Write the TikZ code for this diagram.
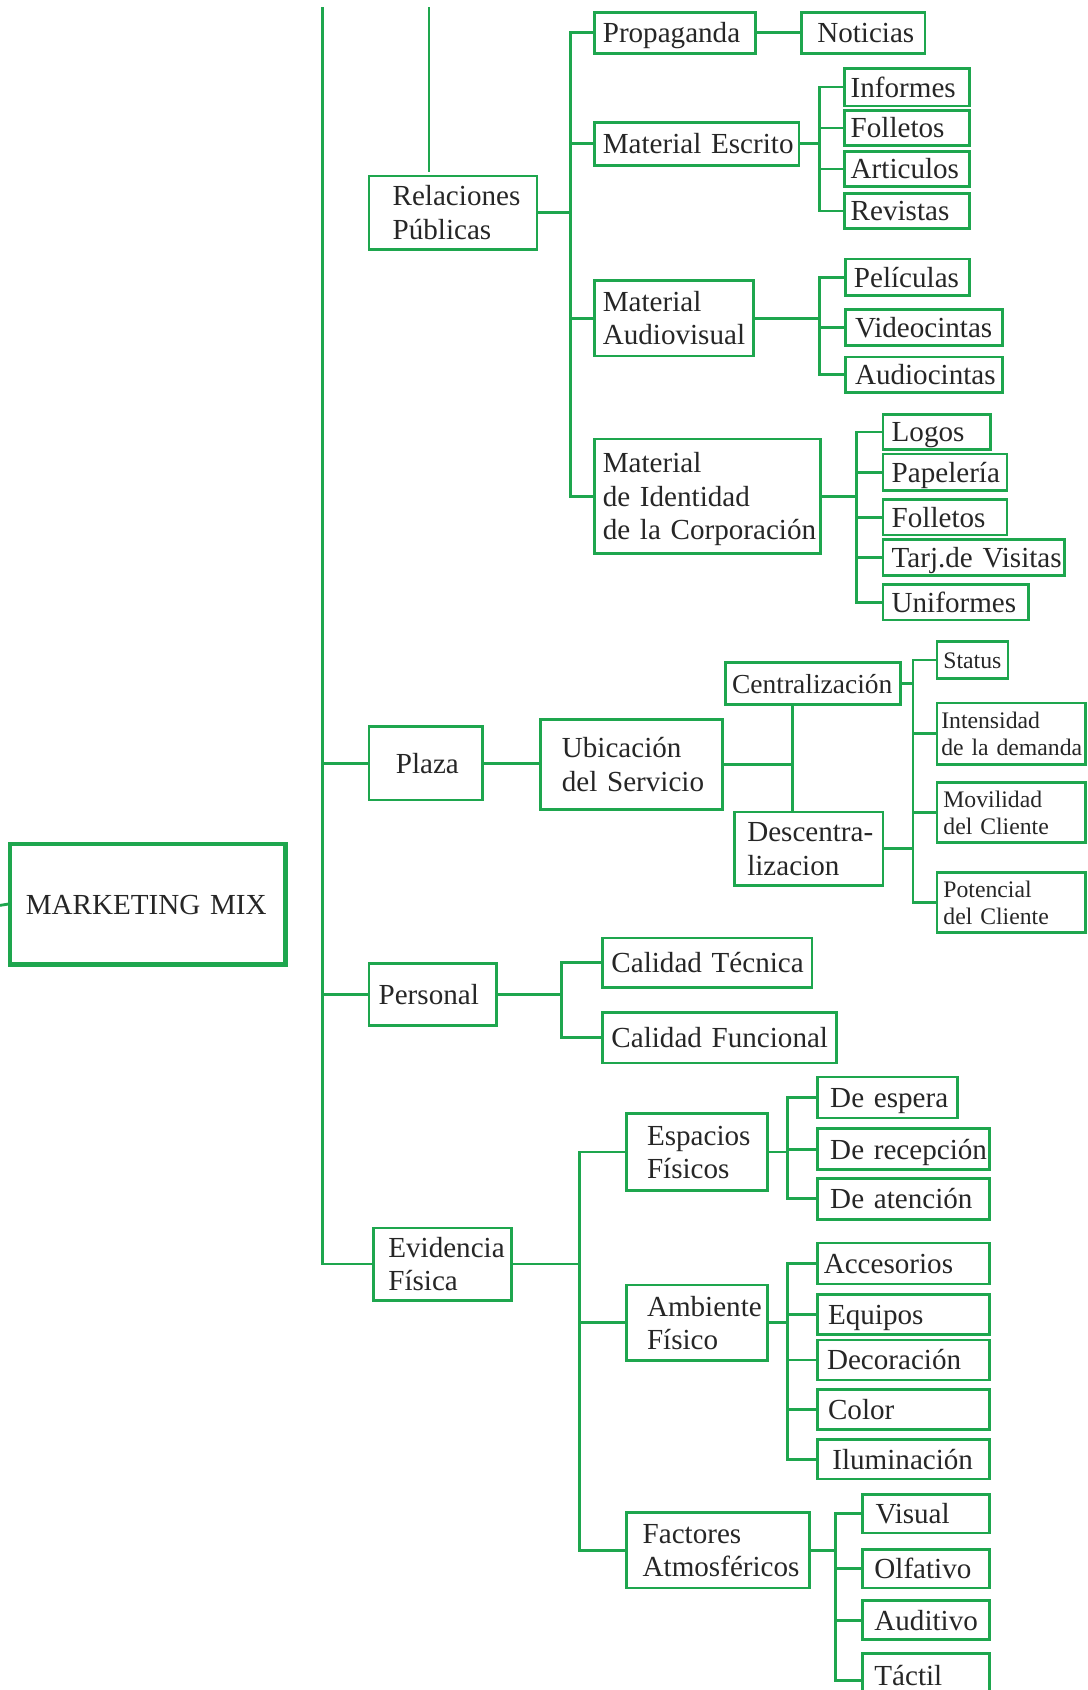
\documentclass[tikz,border=0pt]{standalone}
\usepackage{fontspec}
\setmainfont{Liberation Serif}
\definecolor{gr}{RGB}{30,166,78}
\definecolor{tx}{RGB}{38,38,38}
\newcommand\fbig{\fontsize{27}{31}\selectfont}
\newcommand\fsmall{\fontsize{22}{25}\selectfont}
\newcommand\fmid{\fontsize{25.5}{31}\selectfont}
\tikzset{
  box/.style={draw=gr, line width=2.6pt, inner ysep=0pt, align=left, anchor=north west, text=tx, font=\fbig},
  conn/.style={draw=gr, line width=2.6pt, line cap=rect},
  sm/.style={font=\fsmall},
  md/.style={font=\fmid}
}
\newcommand\bx[8][]{%
  \pgfmathsetmacro\bxw{#5-#3-2*#7}%
  \pgfmathsetmacro\bxh{#6-#4}%
  \node[box,inner xsep=#7pt,text width=\bxw pt,minimum height=\bxh pt,#1] (#2) at (#3,#4) {\raisebox{-3pt}[\height][\depth]{\begin{tabular}{@{}l@{}}#8\end{tabular}}};%
}
\newcommand\tree[5]{%
  \draw[conn] (#1.east) -- (#1.east -| #2);
  \draw[conn] (#3.west -| #2) -- (#4.west -| #2);
  \foreach \c in {#5} {\draw[conn] (\c.west -| #2) -- (\c.west);}
}
\begin{document}
\begin{tikzpicture}[x=1pt,y=-1pt]
\useasboundingbox (0,0) rectangle (1009,1568);
% boxes
\bx[line width=3.8pt]{MM}{7}{781}{263}{893}{15}{MARKETING MIX}
\bx{RP}{341}{162}{497}{230}{22}{Relaciones\\Públicas}
\bx{Prop}{550}{10}{700}{48}{8}{Propaganda}
\bx{Not}{742}{10}{857}{48}{15}{Noticias}
\bx{ME}{550}{112}{740}{152}{8}{Material Escrito}
\bx{Inf}{782}{62}{898}{97}{6}{Informes}
\bx{FolA}{782}{101}{898}{134}{6}{Folletos}
\bx{Art}{782}{139}{898}{172}{6}{Articulos}
\bx{Rev}{782}{178}{898}{211}{6}{Revistas}
\bx{MA}{550}{259}{698}{329}{8}{Material\\Audiovisual}
\bx{Pel}{783}{239}{898}{273}{8}{Películas}
\bx{Vid}{783}{286}{929}{319}{9}{Videocintas}
\bx{Aud}{783}{330}{929}{363}{9}{Audiocintas}
\bx{MI}{550}{406}{760}{512}{8}{Material\\de Identidad\\de la Corporación}
\bx{Log}{818}{383}{918}{416}{8}{Logos}
\bx{Pap}{818}{420}{933}{454}{8}{Papelería}
\bx{FolB}{818}{462}{933}{495}{8}{Folletos}
\bx{Tar}{818}{499}{986}{533}{8}{Tarj.de Visitas}
\bx{Uni}{818}{541}{953}{574}{8}{Uniformes}
\bx{Pla}{341}{673}{446}{741}{25}{Plaza}
\bx{Ubi}{500}{666}{669}{750}{20}{Ubicación\\del Servicio}
\bx[md]{Cen}{672}{613}{834}{652}{6}{Centralización}
\bx{Des}{680}{752}{818}{820}{12}{Descentra-\\lizacion}
\bx[sm]{Sta}{868}{594}{934}{628}{6}{Status}
\bx[sm]{Int}{868}{651}{1006}{708}{4}{Intensidad\\de la demanda}
\bx[sm]{Mov}{868}{725}{1006}{780}{6}{Movilidad\\del Cliente}
\bx[sm]{Pot}{868}{808}{1006}{864}{6}{Potencial\\del Cliente}
\bx{Per}{341}{893}{459}{950}{9}{Personal}
\bx{CT}{558}{869}{752}{915}{8}{Calidad Técnica}
\bx{CF}{558}{938}{775}{985}{8}{Calidad Funcional}
\bx{Evi}{345}{1138}{473}{1205}{14}{Evidencia\\Física}
\bx{EF}{580}{1032}{711}{1103}{19}{Espacios\\Físicos}
\bx{Esp}{757}{998}{887}{1036}{12}{De espera}
\bx{Rec}{757}{1046}{917}{1084}{12}{De recepción}
\bx{Ate}{757}{1092}{917}{1130}{12}{De atención}
\bx{AF}{580}{1191}{711}{1261}{19}{Ambiente\\Físico}
\bx{Acc}{757}{1152}{917}{1190}{6}{Accesorios}
\bx{Equ}{757}{1200}{917}{1237}{10}{Equipos}
\bx{Dec}{757}{1242}{917}{1279}{9}{Decoración}
\bx{Col}{757}{1288}{917}{1325}{10}{Color}
\bx{Ilu}{757}{1334}{917}{1371}{14}{Iluminación}
\bx{FA}{580}{1402}{750}{1472}{15}{Factores\\Atmosféricos}
\bx{Vis}{799}{1385}{917}{1421}{12}{Visual}
\bx{Olf}{799}{1436}{917}{1472}{11}{Olfativo}
\bx{Aui}{799}{1484}{917}{1520}{11}{Auditivo}
\bx{Tac}{799}{1533}{917}{1582}{11}{\raisebox{6pt}{Táctil}}
% coordinates
\coordinate (top1) at (299,8);
\coordinate (top2) at (398,8);
\coordinate (mmstub) at (0,840);
\coordinate (bRP) at (529,0);
\coordinate (bME) at (760,0);
\coordinate (bMA) at (760,0);
\coordinate (bMI) at (795,0);
\coordinate (bCD) at (735,0);
\coordinate (bCL) at (847,0);
\coordinate (bPer) at (521,0);
\coordinate (bEvi) at (538,0);
\coordinate (bEF) at (731,0);
\coordinate (bAF) at (731,0);
\coordinate (bFA) at (775,0);
% connectors
\draw[conn] (mmstub) -- (MM.west);
\draw[conn] (top1) -- (top1 |- Evi.west) -- (Evi.west);
\foreach \c in {Pla,Per} {\draw[conn] (\c.west -| top1) -- (\c.west);}
\draw[conn, shorten >=4pt] (top2) -- (top2 |- RP.north);
\tree{RP}{bRP}{Prop}{MI}{Prop,ME,MA,MI}
\draw[conn] (Prop.east) -- (Not.west);
\tree{ME}{bME}{Inf}{Rev}{Inf,FolA,Art,Rev}
\tree{MA}{bMA}{Pel}{Aud}{Pel,Vid,Aud}
\tree{MI}{bMI}{Log}{Uni}{Log,Pap,FolB,Tar,Uni}
\draw[conn] (Pla.east) -- (Pla.east -| Ubi.west);
\draw[conn] (Ubi.east) -- (Ubi.east -| bCD);
\draw[conn] (bCD |- Cen.south) -- (bCD |- Des.north);
\tree{Cen}{bCL}{Sta}{Pot}{Sta,Int,Mov,Pot}
\draw[conn] (Des.east) -- (Des.east -| bCL);
\tree{Per}{bPer}{CT}{CF}{CT,CF}
\tree{Evi}{bEvi}{EF}{FA}{EF,AF,FA}
\tree{EF}{bEF}{Esp}{Ate}{Esp,Rec,Ate}
\tree{AF}{bAF}{Acc}{Ilu}{Acc,Equ,Dec,Col,Ilu}
\tree{FA}{bFA}{Vis}{Tac}{Vis,Olf,Aui,Tac}
\end{tikzpicture}
\end{document}
